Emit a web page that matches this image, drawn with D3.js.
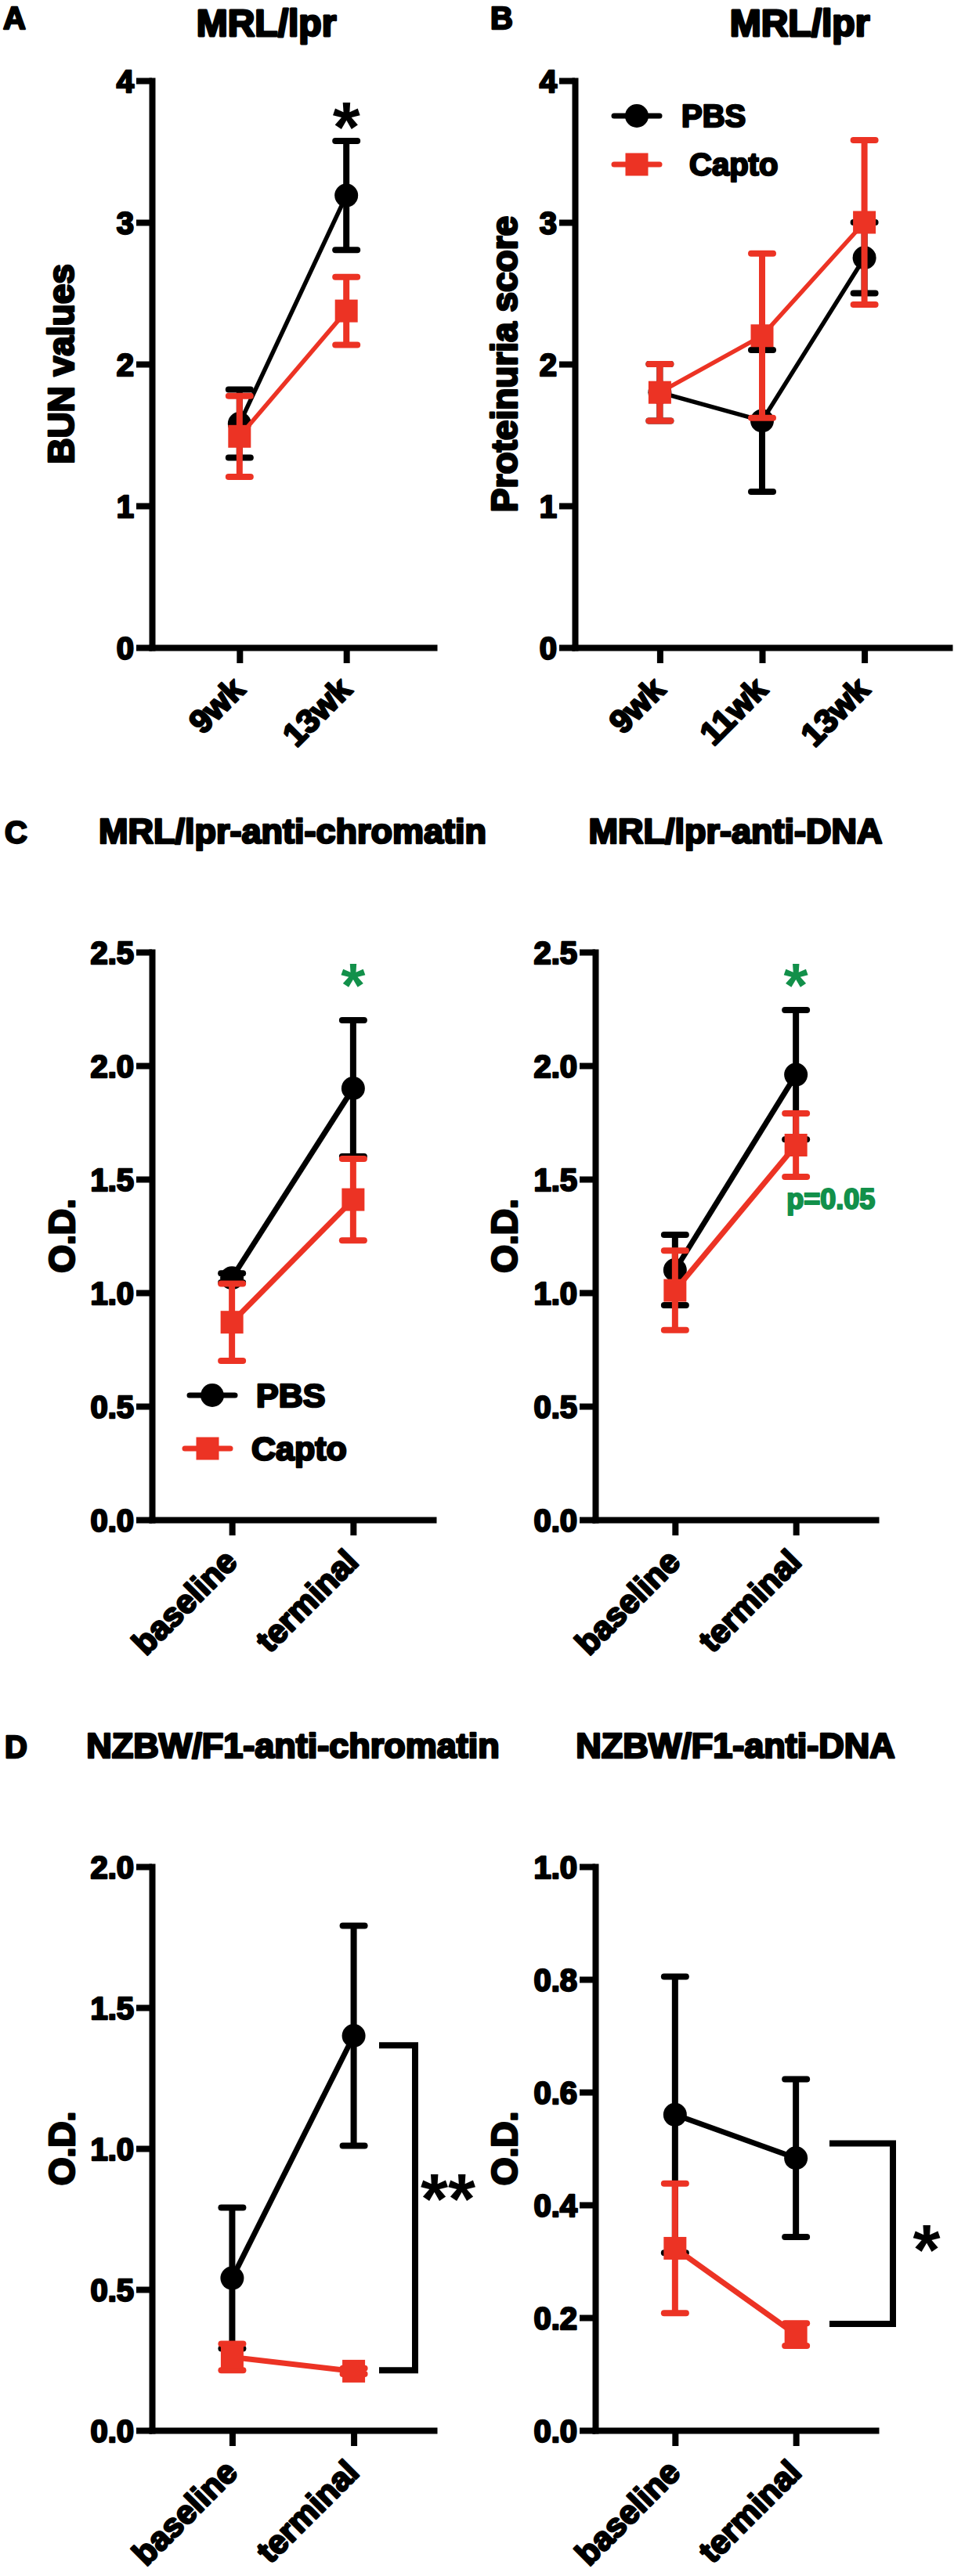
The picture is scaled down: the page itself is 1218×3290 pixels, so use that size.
<!DOCTYPE html>
<html lang="en">
<head>
<meta charset="UTF-8">
<title>MRL/lpr and NZBW/F1</title>
<script src="https://cdn.jsdelivr.net/npm/d3@7"></script>
<style>
    body{ margin:0; background:#fff; }
    svg{ display:block; font-family:"Liberation Sans", Arial, sans-serif; font-weight:bold; }
</style>
</head>
<body>
<script>
    // ---------- data ----------
    var weeksA = ['9wk', '13wk'];
    var bunPbs = [1.58, 3.19],      bunPbsErr = [0.24, 0.385];
    var bunCapto = [1.49, 2.375],   bunCaptoErr = [0.285, 0.24];

    var weeksB = ['9wk', '11wk', '13wk'];
    var protPbs = [1.8, 1.6, 2.75],   protPbsErr = [0.2, 0.5, 0.25];
    var protCapto = [1.8, 2.2, 3.0],  protCaptoErr = [0.2, 0.58, 0.58];

    var stages = ['baseline', 'terminal'];
    var mrlChromPbs = [1.065, 1.9],   mrlChromPbsErr = [0.02, 0.3];
    var mrlChromCapto = [0.87, 1.41], mrlChromCaptoErr = [0.17, 0.18];
    var mrlDnaPbs = [1.1, 1.96],      mrlDnaPbsErr = [0.155, 0.285];
    var mrlDnaCapto = [1.01, 1.65],   mrlDnaCaptoErr = [0.175, 0.14];

    var nzbChromPbs = [0.54, 1.4],    nzbChromPbsErr = [0.25, 0.39];
    var nzbChromCapto = [0.26, 0.21], nzbChromCaptoErr = [0.047, 0.01];
    var nzbDnaPbs = [0.56, 0.483],    nzbDnaPbsErr = [0.245, 0.14];
    var nzbDnaCapto = [0.323, 0.17],  nzbDnaCaptoErr = [0.115, 0.02];

    var ticks4 = [0, 1, 2, 3, 4];
    var ticks25 = [0, 0.5, 1.0, 1.5, 2.0, 2.5];
    var ticks20 = [0, 0.5, 1.0, 1.5, 2.0];
    var ticks10 = [0, 0.2, 0.4, 0.6, 0.8, 1.0];

    var seriesNames = ['PBS', 'Capto'];

    // ---------- style ----------
    var BLACK = '#000', RED = '#ec3324', GREEN = '#12904a';
    var AXIS_W = 8;

    var svg = d3.select('body').append('svg')
        .attr('width', 1218).attr('height', 3290);

    function series(name, vals, errs) {
        return { name: name, vals: vals, errs: errs, color: name === 'PBS' ? BLACK : RED };
    }

    function drawPanel(cfg) {
        var g = svg.append('g');
        var x = d3.scalePoint().domain(cfg.cats).range([cfg.x0, cfg.x1]).padding(cfg.pad);
        var y = d3.scaleLinear().domain(cfg.domain).range([cfg.yb, cfg.yt]);

        // panel letter + title
        g.append('text').attr('x', cfg.letterX).attr('y', cfg.titleY - (cfg.letterDy || 0))
            .style('font-size', '40px').text(cfg.letter);
        g.append('text').attr('x', cfg.titleX || (cfg.x0 + cfg.x1) / 2).attr('y', cfg.titleY)
            .attr('text-anchor', 'middle').style('font-size', cfg.titleSize + 'px').text(cfg.title);

        // axes
        var xa = g.append('g').attr('transform', 'translate(0,' + cfg.yb + ')')
            .call(d3.axisBottom(x).tickSize(20).tickSizeOuter(0).tickFormat(''));
        var ya = g.append('g').attr('transform', 'translate(' + cfg.x0 + ',0)')
            .call(d3.axisLeft(y).tickValues(cfg.ticks).tickFormat(d3.format(cfg.fmt))
                .tickSize(20).tickSizeOuter(0).tickPadding(3));
        [xa, ya].forEach(function(a){
            a.selectAll('path.domain').attr('stroke', BLACK).attr('stroke-width', AXIS_W)
                .attr('stroke-linecap', 'square');
            a.selectAll('.tick line').attr('stroke', BLACK).attr('stroke-width', AXIS_W);
        });
        ya.selectAll('.tick text').attr('fill', BLACK)
            .style('font-size', '40px').attr('dy', '0.36em');
        ya.attr('font-family', null).attr('font-size', null);

        // category labels
        g.selectAll('.cat').data(cfg.cats).enter().append('text')
            .attr('transform', function(d){ return 'translate(' + (x(d) + 9) + ',' + (cfg.yb + 56) + ') rotate(-45)'; })
            .attr('text-anchor', 'end').style('font-size', '42px').text(function(d){ return d; });

        // y label
        g.append('text')
            .attr('transform', 'translate(' + cfg.ylabelX + ',' + (cfg.yt + cfg.yb) / 2 + ') rotate(-90)')
            .attr('text-anchor', 'middle').attr('dy', '0.36em')
            .style('font-size', '46px').text(cfg.ylabel);

        // series: error bars, line, markers
        cfg.series.forEach(function(s){
            var pts = cfg.cats.map(function(c, i){ return { c: c, v: s.vals[i], e: s.errs[i] }; });
            var sg = g.append('g');
            var eb = sg.selectAll('.err').data(pts).enter().append('g');
            eb.append('line')
                .attr('x1', function(d){ return x(d.c); }).attr('x2', function(d){ return x(d.c); })
                .attr('y1', function(d){ return y(d.v - d.e); }).attr('y2', function(d){ return y(d.v + d.e); })
                .attr('stroke', s.color).attr('stroke-width', 8);
            [-1, 1].forEach(function(sign){
                eb.append('line')
                    .attr('x1', function(d){ return x(d.c) - 14; }).attr('x2', function(d){ return x(d.c) + 14; })
                    .attr('y1', function(d){ return y(d.v + sign * d.e); }).attr('y2', function(d){ return y(d.v + sign * d.e); })
                    .attr('stroke', s.color).attr('stroke-width', 8).attr('stroke-linecap', 'round');
            });
            sg.append('path').datum(pts)
                .attr('d', d3.line().x(function(d){ return x(d.c); }).y(function(d){ return y(d.v); }))
                .attr('fill', 'none').attr('stroke', s.color).attr('stroke-width', cfg.lineW);
            drawMarker(sg.selectAll('.mk').data(pts).enter(), s.name,
                function(d){ return x(d.c); }, function(d){ return y(d.v); });
        });

        // annotations
        (cfg.stars || []).forEach(function(st){
            g.append('text').attr('class', 'star').attr('x', st.cat ? x(st.cat) : st.x).attr('y', y(st.v))
                .attr('text-anchor', 'middle').attr('dy', '0.55em')
                .attr('fill', st.color || BLACK).style('font-size', (st.size || 90) + 'px').text(st.text);
        });
        (cfg.notes || []).forEach(function(n){
            g.append('text').attr('x', x(n.cat) - 12).attr('y', y(n.v))
                .attr('fill', GREEN).style('font-size', '36px').text(n.text);
        });
        if (cfg.bracket) {
            var b = cfg.bracket;
            g.append('path')
                .attr('d', 'M' + b.xa + ',' + y(b.hi) + 'H' + b.xb + 'V' + y(b.lo) + 'H' + b.xa)
                .attr('fill', 'none').attr('stroke', BLACK).attr('stroke-width', 8);
        }
        if (cfg.legend) drawLegend(g, cfg.legend);
    }

    function drawMarker(sel, name, fx, fy) {
        if (name === 'PBS') {
            sel.append('circle').attr('cx', fx).attr('cy', fy).attr('r', 15).attr('fill', BLACK);
        } else {
            sel.append('rect').attr('x', function(d){ return fx(d) - 14.5; }).attr('y', function(d){ return fy(d) - 14.5; })
                .attr('width', 29).attr('height', 29).attr('fill', RED);
        }
    }

    function drawLegend(g, lg) {
        seriesNames.forEach(function(name, i){
            var it = lg.items[i];
            var col = name === 'PBS' ? BLACK : RED;
            g.append('line').attr('x1', it.mx - 29).attr('x2', it.mx + 29).attr('y1', it.my).attr('y2', it.my)
                .attr('stroke', col).attr('stroke-width', 7).attr('stroke-linecap', 'round');
            drawMarker(g.selectAll('.lgm' + i).data([0]).enter(), name,
                function(){ return it.mx; }, function(){ return it.my; });
            g.append('text').attr('x', it.tx).attr('y', it.my + lg.size * 0.36)
                .style('font-size', lg.size + 'px').text(name);
        });
    }

    // ---------- panels ----------
    drawPanel({
        letter: 'A', letterX: 4, letterDy: 9, title: 'MRL/lpr', titleX: 340, titleY: 46, titleSize: 48,
        cats: weeksA, x0: 194, x1: 554, pad: 0.82, yt: 103, yb: 827,
        domain: [0, 4], ticks: ticks4, fmt: 'd', ylabel: 'BUN values', ylabelX: 77, lineW: 5.5,
        series: [series('PBS', bunPbs, bunPbsErr), series('Capto', bunCapto, bunCaptoErr)],
        stars: [{ cat: '13wk', v: 3.77, text: '*' }]
    });
    drawPanel({
        letter: 'B', letterX: 626, letterDy: 9, title: 'MRL/lpr', titleX: 1021, titleY: 46, titleSize: 48,
        cats: weeksB, x0: 734, x1: 1212, pad: 0.83, yt: 103, yb: 827,
        domain: [0, 4], ticks: ticks4, fmt: 'd', ylabel: 'Proteinuria score', ylabelX: 643, lineW: 5.5,
        series: [series('PBS', protPbs, protPbsErr), series('Capto', protCapto, protCaptoErr)],
        legend: { size: 40, items: [{ mx: 813, my: 148, tx: 870 }, { mx: 813, my: 210, tx: 880 }] }
    });
    drawPanel({
        letter: 'C', letterX: 6, title: 'MRL/lpr-anti-chromatin', titleY: 1077, titleSize: 45,
        cats: stages, x0: 194, x1: 553, pad: 0.66, yt: 1216, yb: 1941,
        domain: [0, 2.5], ticks: ticks25, fmt: '.1f', ylabel: 'O.D.', ylabelX: 78, lineW: 7,
        series: [series('PBS', mrlChromPbs, mrlChromPbsErr), series('Capto', mrlChromCapto, mrlChromCaptoErr)],
        stars: [{ cat: 'terminal', v: 2.41, text: '*', color: GREEN, size: 80 }],
        legend: { size: 43, items: [{ mx: 271, my: 1782, tx: 327 }, { mx: 265, my: 1850, tx: 321 }] }
    });
    drawPanel({
        letter: '', letterX: 0, title: 'MRL/lpr-anti-DNA', titleY: 1077, titleSize: 45,
        cats: stages, x0: 760, x1: 1118, pad: 0.66, yt: 1216, yb: 1941,
        domain: [0, 2.5], ticks: ticks25, fmt: '.1f', ylabel: 'O.D.', ylabelX: 643, lineW: 7,
        series: [series('PBS', mrlDnaPbs, mrlDnaPbsErr), series('Capto', mrlDnaCapto, mrlDnaCaptoErr)],
        stars: [{ cat: 'terminal', v: 2.41, text: '*', color: GREEN, size: 80 }],
        notes: [{ cat: 'terminal', v: 1.37, text: 'p=0.05' }]
    });
    drawPanel({
        letter: 'D', letterX: 6, title: 'NZBW/F1-anti-chromatin', titleY: 2245, titleSize: 45,
        cats: stages, x0: 194, x1: 554, pad: 0.66, yt: 2384, yb: 3104,
        domain: [0, 2], ticks: ticks20, fmt: '.1f', ylabel: 'O.D.', ylabelX: 78, lineW: 7,
        series: [series('PBS', nzbChromPbs, nzbChromPbsErr), series('Capto', nzbChromCapto, nzbChromCaptoErr)],
        bracket: { xa: 484, xb: 530, hi: 1.366, lo: 0.213 },
        stars: [{ x: 572, v: 0.87, text: '**' }]
    });
    drawPanel({
        letter: '', letterX: 0, title: 'NZBW/F1-anti-DNA', titleY: 2245, titleSize: 45,
        cats: stages, x0: 760, x1: 1118, pad: 0.66, yt: 2384, yb: 3104,
        domain: [0, 1], ticks: ticks10, fmt: '.1f', ylabel: 'O.D.', ylabelX: 643, lineW: 7,
        series: [series('PBS', nzbDnaPbs, nzbDnaPbsErr), series('Capto', nzbDnaCapto, nzbDnaCaptoErr)],
        bracket: { xa: 1059, xb: 1140, hi: 0.509, lo: 0.189 },
        stars: [{ x: 1183, v: 0.345, text: '*' }]
    });

    // the source figure's lettering is heavier than plain bold: thicken with a matching outline
    svg.selectAll('text:not(.star)').each(function(){
        var t = d3.select(this);
        var fs = parseFloat(t.style('font-size')) || 40;
        var fill = t.attr('fill') || BLACK;
        t.attr('stroke', fill).attr('stroke-width', fs * 0.06).attr('stroke-linejoin', 'round');
    });
</script>
</body>
</html>
